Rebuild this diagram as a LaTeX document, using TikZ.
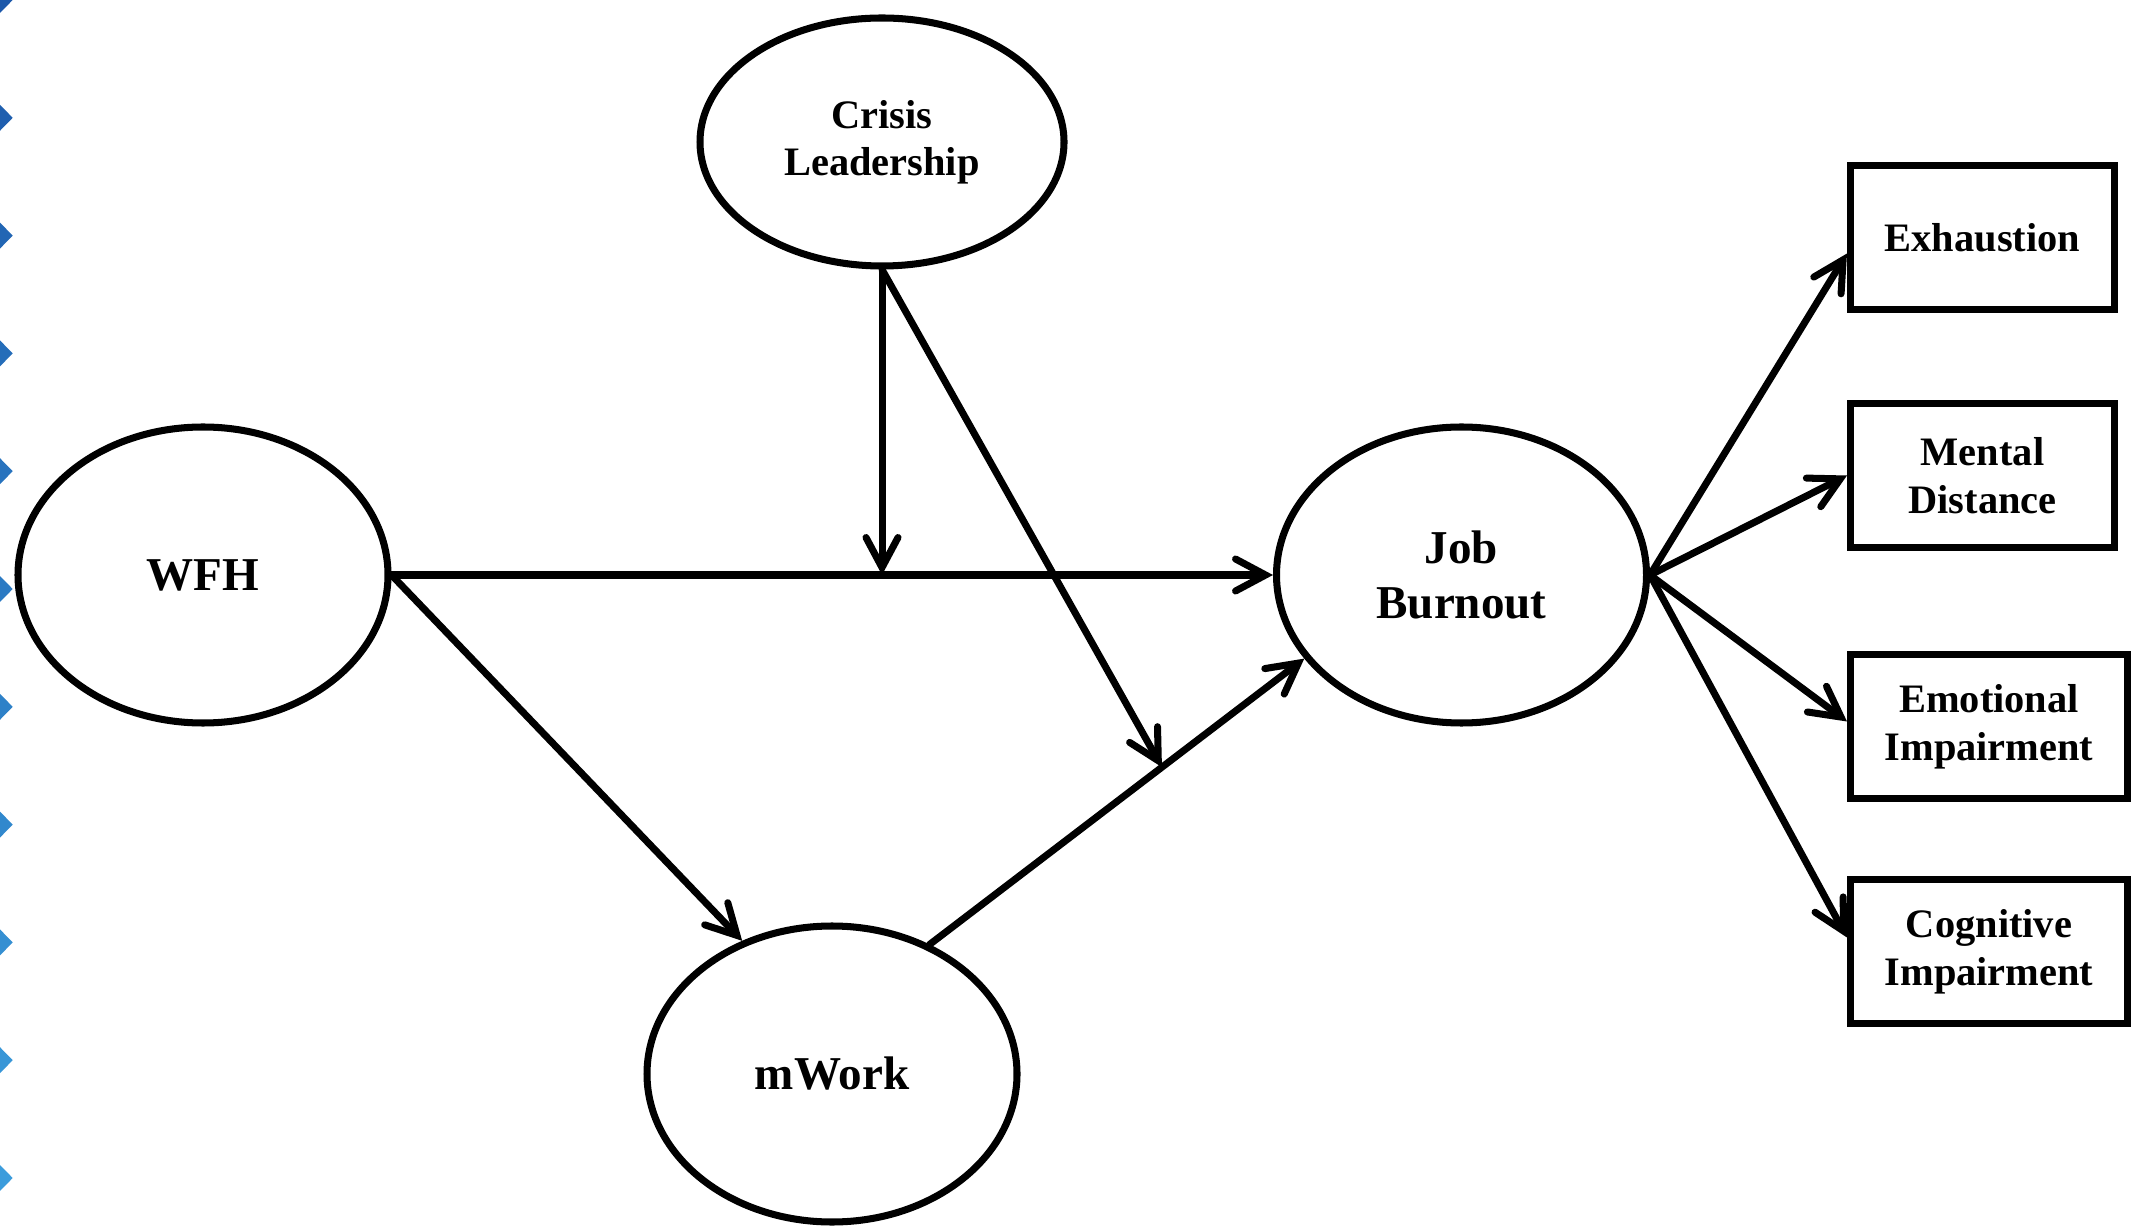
\documentclass[tikz,border=0pt]{standalone}
\usepackage{fontspec}
\setmainfont{Liberation Serif}
\usetikzlibrary{arrows.meta,shapes.geometric,calc}
\definecolor{edgedark}{RGB}{28,88,170}
\definecolor{edgelight}{RGB}{62,164,226}
\tikzset{
  latent/.style={ellipse, draw, line width=2pt, minimum width=3.70cm, minimum height=2.96cm,
    inner sep=0pt, align=center, font=\fontsize{13.4}{15.4}\selectfont\bfseries},
  indicator/.style={rectangle, draw, line width=2pt, minimum height=1.44cm,
    inner sep=0pt, align=center, font=\fontsize{11.5}{13.6}\selectfont\bfseries},
  link/.style={line width=2pt, line cap=round,
    -{Straight Barb[length=3mm,width=3.2mm,line cap=round]}}
}
\begin{document}
\begin{tikzpicture}
    \useasboundingbox (0,0) rectangle (21.34,-12.28);
    \foreach \k in {0,...,10}{
      \pgfmathtruncatemacro{\mix}{100-9*\k}
      \fill[edgedark!\mix!edgelight] (-0.01,{-1.178*\k+0.14}) -- (0.127,{-1.178*\k}) -- (-0.01,{-1.178*\k-0.14}) -- cycle;
    }
    \node[latent, minimum width=3.64cm, minimum height=2.48cm, font=\fontsize{11.5}{13.4}\selectfont\bfseries] (crisis) at (8.82,-1.42) {Crisis\\Leadership};
    \node[latent] (wfh) at (2.03,-5.75) {WFH};
    \node[latent] (burnout) at (14.615,-5.75) {Job\\Burnout};
    \node[latent] (mwork) at (8.32,-10.74) {mWork};
    \node[indicator, minimum width=2.64cm] (exh) at (19.825,-2.375) {Exhaustion};
    \node[indicator, minimum width=2.64cm] (mental) at (19.825,-4.755) {Mental\\Distance};
    \node[indicator, minimum width=2.77cm] (emot) at (19.89,-7.265) {Emotional\\Impairment};
    \node[indicator, minimum width=2.77cm] (cogn) at (19.89,-9.515) {Cognitive\\Impairment};
    \coordinate (mod1) at (crisis.south |- wfh.east);
    \coordinate (mod2) at ($(mwork.53)!0.62!(burnout.208)$);
    \draw[link] (wfh.east) -- (burnout.west);
    \draw[link] (wfh.east) -- (mwork.124);
    \draw[link] (mwork.53) -- (burnout.208);
    \draw[link] (crisis.south) -- (mod1);
    \draw[link] (crisis.south) -- (mod2);
    \draw[link] (burnout.east) -- ([yshift=-1.6mm]exh.west);
    \draw[link] (burnout.east) -- (mental.west);
    \draw[link] (burnout.east) -- ([yshift=0.5mm]emot.west);
    \draw[link] (burnout.east) -- ([yshift=1.4mm]cogn.west);
  \end{tikzpicture}
\end{document}
